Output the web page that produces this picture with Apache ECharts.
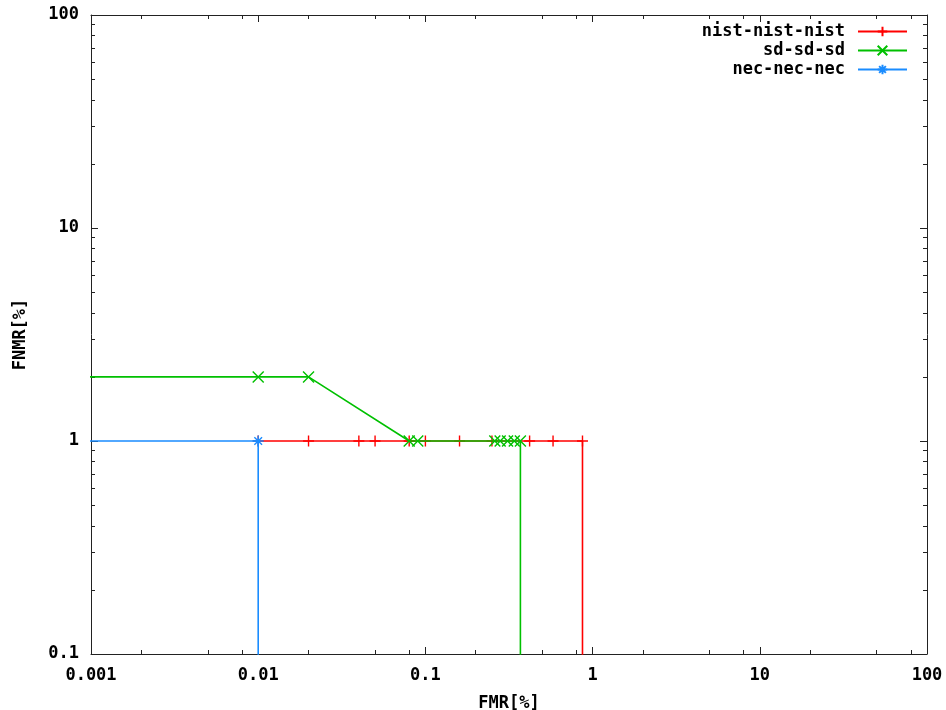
<!DOCTYPE html>
<html>
<head>
<meta charset="utf-8">
<script src="https://cdn.jsdelivr.net/npm/echarts@6/dist/echarts.min.js"></script>
<style>
html,body{margin:0;padding:0;background:#fff;}
#chart{width:946px;height:710px;}
</style>
</head>
<body>
<div id="chart"></div>
<script>
// ---- data ----
const seriesNames = ['nist-nist-nist', 'sd-sd-sd', 'nec-nec-nec'];
const nistFMR  = [0.01, 0.02, 0.04, 0.05, 0.08, 0.1, 0.16, 0.25, 0.42, 0.58, 0.87, 0.87];
const nistFNMR = [1, 1, 1, 1, 1, 1, 1, 1, 1, 1, 1, 0.01];
const sdFMR    = [0.0001, 0.01, 0.02, 0.08, 0.09, 0.26, 0.28, 0.31, 0.34, 0.37, 0.37];
const sdFNMR   = [2, 2, 2, 1, 1, 1, 1, 1, 1, 1, 0.01];
const necFMR   = [0.0001, 0.01, 0.01];
const necFNMR  = [1, 1, 0.01];

const xMajorTicks = [0.001, 0.01, 0.1, 1, 10, 100];
const xTickLabels = ['0.001', '0.01', '0.1', '1', '10', '100'];
const xMinorTicks = [0.002, 0.005, 0.008, 0.02, 0.05, 0.08, 0.2, 0.5, 0.8, 2, 5, 8, 20, 50, 80];
const yMajorTicks = [0.1, 1, 10, 100];
const yTickLabels = ['0.1', '1', '10', '100'];
const yMinorTicks = [0.2,0.3,0.4,0.5,0.6,0.7,0.8,0.9, 2,3,4,5,6,7,8,9, 20,30,40,50,60,70,80,90];

// ---- style ----
const colors = ['#ff0000', '#00c000', '#1a8cff'];
const symbols = [
  'path://M5,0L5,10M0,5L10,5',
  'path://M0,0L10,10M0,10L10,0',
  'path://M5,0L5,10M0,5L10,5M1.5,1.5L8.5,8.5M1.5,8.5L8.5,1.5'
];
const FONT = '"DejaVu Sans Mono", monospace';
const axisColor = '#222';

function zip(xs, ys) { return xs.map((x, i) => [x, ys[i]]); }
function labelFor(ticks, labels) {
  return function (v) {
    let best = 0, bd = Infinity;
    ticks.forEach((t, i) => { const d = Math.abs(Math.log10(t) - Math.log10(v)); if (d < bd) { bd = d; best = i; } });
    return labels[best];
  };
}

function xAx(pos, major, withLabels) {
  return {
    type: 'log', logBase: 10, min: 0.001, max: 100, position: pos,
    gridIndex: 0,
    axisLine: { show: major, lineStyle: { color: axisColor, width: 1 } },
    axisTick: { show: true, inside: true, length: major ? 7 : 4,
      customValues: major ? xMajorTicks : xMinorTicks,
      lineStyle: { color: axisColor, width: 1 } },
    axisLabel: withLabels ? { show: true, customValues: xMajorTicks, formatter: labelFor(xMajorTicks, xTickLabels),
      fontFamily: FONT, fontWeight: 'bold', fontSize: 17, color: '#000', margin: 13 } : { show: false },
    splitLine: { show: false },
    minorTick: { show: false },
    name: withLabels ? 'FMR[%]' : '',
    nameLocation: 'middle', nameGap: 41,
    nameTextStyle: { fontFamily: FONT, fontWeight: 'bold', fontSize: 17, color: '#000' }
  };
}
function yAx(pos, major, withLabels) {
  return {
    type: 'log', logBase: 10, min: 0.1, max: 100, position: pos,
    gridIndex: 0,
    axisLine: { show: major, lineStyle: { color: axisColor, width: 1 } },
    axisTick: { show: true, inside: true, length: major ? 7 : 4,
      customValues: major ? yMajorTicks : yMinorTicks,
      lineStyle: { color: axisColor, width: 1 } },
    axisLabel: withLabels ? { show: true, customValues: yMajorTicks, formatter: labelFor(yMajorTicks, yTickLabels),
      fontFamily: FONT, fontWeight: 'bold', fontSize: 17, color: '#000', margin: 12 } : { show: false },
    splitLine: { show: false },
    minorTick: { show: false },
    name: withLabels ? 'FNMR[%]' : '',
    nameLocation: 'middle', nameGap: 62, nameRotate: 90,
    nameTextStyle: { fontFamily: FONT, fontWeight: 'bold', fontSize: 17, color: '#000' }
  };
}

const dataSets = [zip(nistFMR, nistFNMR), zip(sdFMR, sdFNMR), zip(necFMR, necFNMR)];

const option = {
  animation: false,
  backgroundColor: '#fff',
  grid: { left: 91, right: 19, top: 15, bottom: 56, containLabel: false, outerBoundsMode: 'none' },
  legend: {
    orient: 'vertical', right: 33, top: 18, align: 'right',
    itemWidth: 49, itemHeight: 12, itemGap: 2,
    textStyle: { fontFamily: FONT, fontWeight: 'bold', fontSize: 17, color: '#000', lineHeight: 17, padding: [0, 8, 0, 0] },
    data: seriesNames
  },
  xAxis: [xAx('bottom', true, true), xAx('bottom', false, false), xAx('top', true, false), xAx('top', false, false)],
  yAxis: [yAx('left', true, true), yAx('left', false, false), yAx('right', true, false), yAx('right', false, false)],
  series: seriesNames.map((n, i) => ({
    name: n, type: 'line', data: dataSets[i],
    xAxisIndex: 0, yAxisIndex: 0,
    symbol: symbols[i], symbolSize: 11, showSymbol: true, showAllSymbol: true,
    clip: true,
    lineStyle: { color: colors[i], width: 1.6 },
    itemStyle: { color: colors[i], borderColor: colors[i], borderWidth: 1.4 },
    emphasis: { disabled: true },
    z: 2 + i
  }))
};

const chart = echarts.init(document.getElementById('chart'), null, { renderer: 'canvas' });
chart.setOption(option);
</script>
</body>
</html>
